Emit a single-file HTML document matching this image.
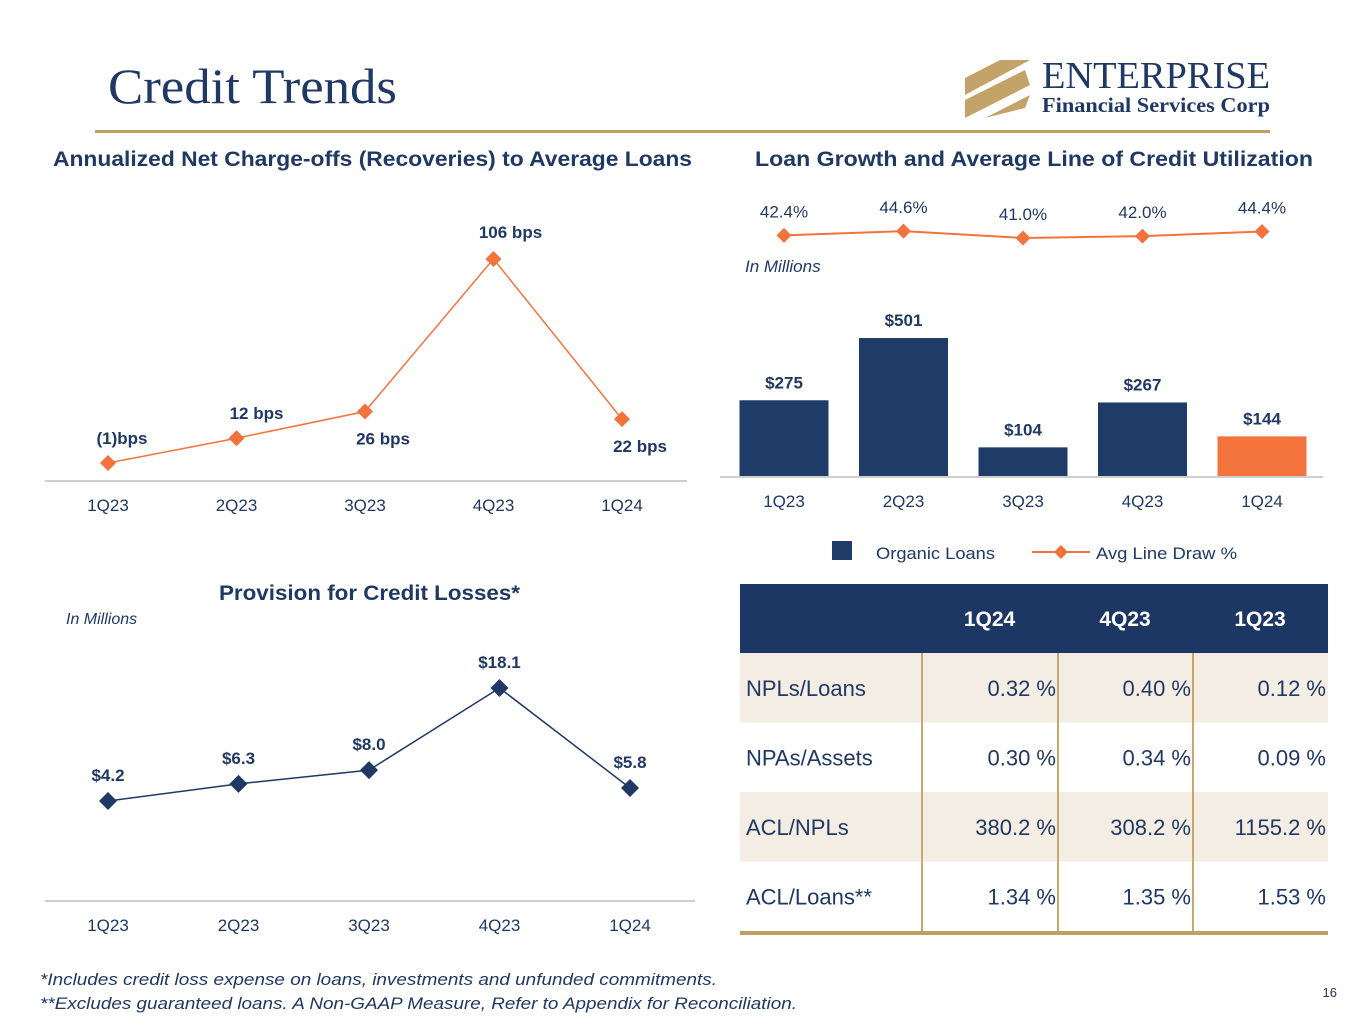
<!DOCTYPE html>
<html><head><meta charset="utf-8"><style>
body{margin:0;width:1365px;height:1024px;background:#fff;overflow:hidden;font-family:"Liberation Sans",sans-serif}
svg text{font-family:"Liberation Sans",sans-serif}
</style></head><body>
<svg id="s" width="1365" height="1024" xmlns="http://www.w3.org/2000/svg">
<text x="108" y="103" font-size="50" fill="#1f3864" textLength="289" lengthAdjust="spacingAndGlyphs" style="font-family:'Liberation Serif',serif">Credit Trends</text>
<g>
<polygon points="965,78 1000,60 1030,60 965,95" fill="#c4a369"/>
<polygon points="965,100 1025,70 1030,85 965,118" fill="#c4a369"/>
<polygon points="985,118 1030,95 1025,108 985,118" fill="#c4a369"/>
<text x="1042" y="88" font-size="38" fill="#1f3864" textLength="228" lengthAdjust="spacingAndGlyphs" style="font-family:'Liberation Serif',serif">ENTERPRISE</text>
<text x="1042" y="112" font-size="21" font-weight="bold" fill="#1f3864" textLength="228" lengthAdjust="spacingAndGlyphs" style="font-family:'Liberation Serif',serif">Financial Services Corp</text>
</g>
<rect x="95" y="130" width="1175" height="3" fill="#c0a062"/>
<text x="53" y="166" font-size="21" font-weight="bold" fill="#1f3864" textLength="639" lengthAdjust="spacingAndGlyphs">Annualized Net Charge-offs (Recoveries) to Average Loans</text>
<text x="755" y="166" font-size="21" font-weight="bold" fill="#1f3864" textLength="558" lengthAdjust="spacingAndGlyphs">Loan Growth and Average Line of Credit Utilization</text>
<text x="219" y="600" font-size="21" font-weight="bold" fill="#1f3864" textLength="301" lengthAdjust="spacingAndGlyphs">Provision for Credit Losses*</text>
<text x="66" y="624" font-size="16" font-style="italic" fill="#1f3864">In Millions</text>
<text x="745" y="272" font-size="17" font-style="italic" fill="#1f3864">In Millions</text>
<g id="c1"></g><g id="c2"></g><g id="c3"></g>
<g>
<rect x="832" y="541" width="20" height="19" fill="#1f3b68"/>
<text x="876" y="559" font-size="17" fill="#1f3864" textLength="119" lengthAdjust="spacingAndGlyphs">Organic Loans</text>
<line x1="1032" y1="552" x2="1090" y2="552" stroke="#f4733c" stroke-width="2"/>
<polygon points="1061,545 1068,552 1061,559 1054,552" fill="#f4733c"/>
<text x="1096" y="559" font-size="17" fill="#1f3864" textLength="141" lengthAdjust="spacingAndGlyphs">Avg Line Draw %</text>
</g>
<g id="tbl"></g>
<text x="40" y="985" font-size="17" font-style="italic" fill="#1f3864" textLength="677" lengthAdjust="spacingAndGlyphs">*Includes credit loss expense on loans, investments and unfunded commitments.</text>
<text x="40" y="1009" font-size="17" font-style="italic" fill="#1f3864" textLength="757" lengthAdjust="spacingAndGlyphs">**Excludes guaranteed loans. A Non-GAAP Measure, Refer to Appendix for Reconciliation.</text>
<text x="1337" y="997" text-anchor="end" font-size="13" fill="#1f3864">16</text>
</svg>
<script>
const quarters=["1Q23","2Q23","3Q23","4Q23","1Q24"];
const ncoBps=[-1,12,26,106,22];
const ncoLabels=["(1)bps","12  bps","26 bps","106 bps","22 bps"];
const provision=[4.2,6.3,8.0,18.1,5.8];
const provisionLabels=["$4.2","$6.3","$8.0","$18.1","$5.8"];
const organicLoans=[275,501,104,267,144];
const loanLabels=["$275","$501","$104","$267","$144"];
const lineDraw=[42.4,44.6,41.0,42.0,44.4];
const lineDrawLabels=["42.4%","44.6%","41.0%","42.0%","44.4%"];
const tableCols=["1Q24","4Q23","1Q23"];
const tableRows=["NPLs/Loans","NPAs/Assets","ACL/NPLs","ACL/Loans**"];
const tableVals=[["0.32 %","0.40 %","0.12 %"],["0.30 %","0.34 %","0.09 %"],["380.2 %","308.2 %","1155.2 %"],["1.34 %","1.35 %","1.53 %"]];
const NS="http://www.w3.org/2000/svg";
function mk(p,t,a,txt){const e=document.createElementNS(NS,t);for(const k in a)e.setAttribute(k,a[k]);if(txt!==undefined)e.textContent=txt;p.appendChild(e);return e;}
const NAVY="#1f3864",ORANGE="#f4733c",BAR="#1f3b68";
function diamond(g,x,y,r,c){return mk(g,"polygon",{points:`${x},${y-r} ${x+r},${y} ${x},${y+r} ${x-r},${y}`,fill:c});}

(function(){const g=document.getElementById("c1");


const x=i=>108+i*128.5, y=v=>463-(v+1)*1.907;
const ax=mk(g,"line",{x1:45,y1:481,x2:687,y2:481,stroke:"#bfbfbf","stroke-width":1.5});


const pl=mk(g,"polyline",{points:ncoBps.map((v,i)=>x(i)+","+y(v)).join(" "),fill:"none",stroke:ORANGE,"stroke-width":1.5});


const off=[[14,-25],[20,-25],[18,27],[17,-27],[18,27]];
ncoBps.forEach((v,i)=>{const d=diamond(g,x(i),y(v),8,ORANGE);


const l=mk(g,"text",{x:x(i)+off[i][0],y:y(v)+off[i][1]+6,"text-anchor":"middle","font-size":17,"font-weight":"bold",fill:NAVY},ncoLabels[i]);


const t=mk(g,"text",{x:x(i),y:511,"text-anchor":"middle","font-size":17,fill:NAVY},quarters[i]);

});})();

(function(){const g=document.getElementById("c2");


const x=i=>108+i*130.5, y=v=>801-(v-4.2)*8.13;
const ax=mk(g,"line",{x1:45,y1:901,x2:695,y2:901,stroke:"#bfbfbf","stroke-width":1.5});


const pl=mk(g,"polyline",{points:provision.map((v,i)=>x(i)+","+y(v)).join(" "),fill:"none",stroke:NAVY,"stroke-width":1.5});


provision.forEach((v,i)=>{const d=diamond(g,x(i),y(v),9,NAVY);


const l=mk(g,"text",{x:x(i),y:y(v)-20,"text-anchor":"middle","font-size":17,"font-weight":"bold",fill:NAVY},provisionLabels[i]);


const t=mk(g,"text",{x:x(i),y:931,"text-anchor":"middle","font-size":17,fill:NAVY},quarters[i]);

});})();

(function(){const g=document.getElementById("c3");


const x=i=>784+i*119.5, yb=v=>476-v*0.2754, yl=v=>238-(v-41)*1.9;
organicLoans.forEach((v,i)=>{const r=mk(g,"rect",{x:x(i)-44.5,y:yb(v),width:89,height:476-yb(v),fill:i==4?"#f4733c":BAR});


const l=mk(g,"text",{x:x(i),y:yb(v)-12,"text-anchor":"middle","font-size":17,"font-weight":"bold",fill:NAVY},loanLabels[i]);


const t=mk(g,"text",{x:x(i),y:507,"text-anchor":"middle","font-size":17,fill:NAVY},quarters[i]);

});
const ax=mk(g,"line",{x1:720,y1:477,x2:1323,y2:477,stroke:"#bfbfbf","stroke-width":1.5});


const pl=mk(g,"polyline",{points:lineDraw.map((v,i)=>x(i)+","+yl(v)).join(" "),fill:"none",stroke:ORANGE,"stroke-width":2});


lineDraw.forEach((v,i)=>{const d=diamond(g,x(i),yl(v),7.5,ORANGE);


const l=mk(g,"text",{x:x(i),y:yl(v)-18,"text-anchor":"middle","font-size":17,fill:NAVY},lineDrawLabels[i]);

});})();

(function(){const g=document.getElementById("tbl");
const L=740,R=1328,top=584,hh=69,rh=69.5,colR=[1057,1192,1327],colX=[922,1058,1193];
const hd=mk(g,"rect",{x:L,y:top,width:R-L,height:hh,fill:"#1c3764"});


tableCols.forEach((c,j)=>{const t=mk(g,"text",{x:(colX[j]+colR[j])/2,y:top+42,"text-anchor":"middle","font-size":21,"font-weight":"bold",fill:"#fff"},c);

});
tableRows.forEach((r,i)=>{const y0=top+hh+i*rh;
const bg=mk(g,"rect",{x:L,y:y0,width:R-L,height:rh,fill:i%2==0?"#f3ede4":"#fff"});


const t=mk(g,"text",{x:746,y:y0+43,"font-size":22,fill:NAVY},r);


tableVals[i].forEach((v,j)=>{const c=mk(g,"text",{x:colR[j]-1,y:y0+43,"text-anchor":"end","font-size":22,fill:NAVY},v);

});});
const bot=top+hh+4*rh;
colX.forEach(cx=>{const l=mk(g,"line",{x1:cx,y1:top+hh,x2:cx,y2:bot,stroke:"#c9a86a","stroke-width":2});

});
const b=mk(g,"rect",{x:L,y:bot,width:R-L,height:4,fill:"#c0a062"});

})();
</script>
</body></html>
